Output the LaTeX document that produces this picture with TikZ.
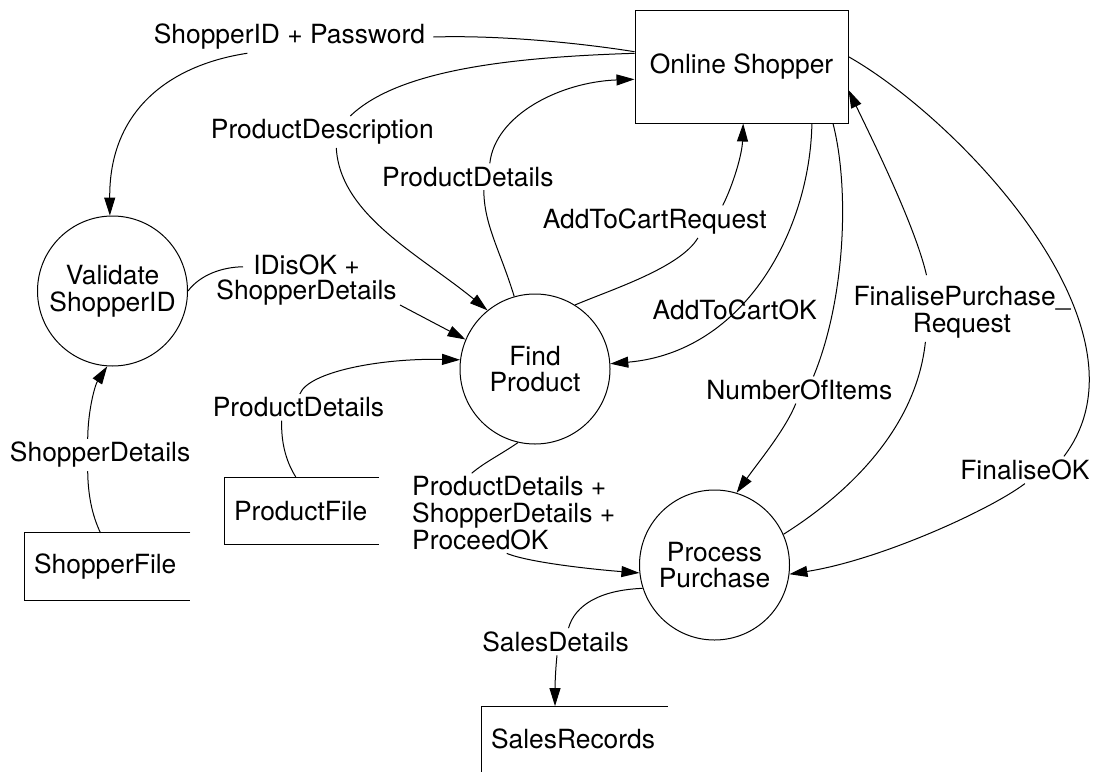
\documentclass[tikz,border=0pt]{standalone}
\usepackage{fontspec}
\setmainfont{TeX Gyre Heros}
\usetikzlibrary{arrows.meta}

\tikzset{
  proc/.style={circle, draw, minimum size=75pt, inner sep=0pt, align=center},
  ext/.style={draw, minimum width=106.5pt, minimum height=56.5pt},
  store/.style={text width=#1, align=left, inner xsep=4.5pt, anchor=west, minimum height=33.3pt},
  flow/.style={inner xsep=4pt, inner ysep=1.5pt},
  flowto/.style={-{Triangle[length=9pt,width=5.5pt]}},
}

\begin{document}
\begin{tikzpicture}[x=0.5pt, y=-0.5pt, line width=0.5pt, font=\fontsize{13.2pt}{13.35pt}\selectfont]
  \useasboundingbox (0,0) rectangle (1097,771);

  % Processes and external entity
  \node[ext] (os) at (741.5,66.5) {Online Shopper};
  \node[proc] (val) at (112.5,291) {Validate\\ShopperID};
  \node[proc] (fp) at (535,369) {Find\\Product};
  \node[proc] (pp) at (714.5,565) {Process\\Purchase};

  % Data stores (open on the right)
  \node[store=73.4pt] (sf) at (24.6,566.7) {ShopperFile};
  \node[store=67.8pt] (pf) at (224.5,510.8) {ProductFile};
  \node[store=83.6pt, minimum height=32.2pt] (sr) at (481.5,738.8) {SalesRecords};
  \foreach \F in {sf,pf} {
    \draw (\F.north east) -| (\F.south west) -- (\F.south east);
  }
  \draw (sr.north east) -| (sr.south west); % bottom cut off by the page

  % Flow labels
  \node[flow] (l-pw) at (289.4,37) {ShopperID + Password};
  \node[flow] (l-pdesc) at (322.3,132) {ProductDescription};
  \node[flow] (l-pdet1) at (467.8,176.7) {ProductDetails};
  \node[flow] (l-acr) at (654.7,221.7) {AddToCartRequest};
  \node[flow, align=center, font=\fontsize{13.2pt}{12.5pt}\selectfont] (l-idok) at (306.5,280) {IDisOK +\\ShopperDetails};
  \node[flow] (l-acok) at (734.7,310) {AddToCartOK};
  \node[flow, align=center] (l-fpr) at (962,312.5) {FinalisePurchase\_\\Request};
  \node[flow] (l-pdet2) at (298.5,407.3) {ProductDetails};
  \node[flow] (l-shd2) at (100.1,455) {ShopperDetails};
  \node[flow] (l-items) at (799.3,390) {NumberOfItems};
  \node[flow] (l-fok) at (1024.9,470) {FinaliseOK};
  \node[flow, align=left] (l-pso) at (513.7,513.3) {ProductDetails +\\ShopperDetails +\\ProceedOK};
  \node[flow] (l-sales) at (555.5,641.7) {SalesDetails};

  % Shopper -> Validate
  \draw ([yshift=7.4pt]os.west) .. controls (580,43) and (500,35) .. (l-pw.east);
  \draw[flowto] ([xshift=-21pt]l-pw.south) .. controls (170,65) and (109,110) .. (val.92);

  % Shopper -> Find Product
  \draw ([yshift=6.6pt]os.west) .. controls (520,57) and (400,68) .. ([xshift=14pt]l-pdesc.north);
  \draw[flowto] ([xshift=7pt]l-pdesc.south) .. controls (340,215) and (420,255) .. (fp.129);

  % Find Product -> Shopper
  \draw (fp.106) .. controls (500,250) and (484,225) .. ([xshift=8pt]l-pdet1.south);
  \draw[flowto] ([xshift=11pt]l-pdet1.north) .. controls (495,115) and (560,82) .. ([yshift=-6.4pt]os.west);
  \draw (fp.58) .. controls (610,290) and (680,268) .. ([xshift=21.6pt]l-acr.south);
  \draw[flowto] ([xshift=34pt]l-acr.north) .. controls (733,185) and (742,155) .. ([xshift=0.85pt]os.south);

  % AddToCartOK runs through its label
  \draw[flowto] ([xshift=35.2pt]os.south) .. controls (810,230) and (745,352) .. (fp.4);

  % Validate -> Find Product
  \draw (val.east) .. controls (200,275) and (222,267) .. ([shift={(-31.75pt,6.6pt)}]l-idok.center);
  \draw[flowto] ([shift={(46.75pt,-12.5pt)}]l-idok.center) -- (fp.157);

  % Stores -> processes
  \draw ([xshift=-3pt]pf.north) .. controls (285,460) and (281,440) .. ([xshift=-8.4pt]l-pdet2.south);
  \draw[flowto] ([xshift=0.7pt]l-pdet2.north) .. controls (308,372) and (380,358) .. (fp.173);
  \draw ([xshift=-3.5pt]sf.north) .. controls (92,515) and (88,495) .. ([xshift=-6.2pt]l-shd2.south);
  \draw[flowto] ([xshift=-6.2pt]l-shd2.north) .. controls (88,410) and (95,385) .. (val.266);

  % Shopper <-> Process Purchase
  \draw ([xshift=45.75pt]os.south) .. controls (850,190) and (845,300) .. ([xshift=7.1pt]l-items.north);
  \draw[flowto] ([xshift=-1.75pt]l-items.south) .. controls (785,430) and (760,460) .. (pp.73);
  \draw (pp.24) .. controls (830,505) and (915,440) .. ([xshift=-18.3pt]l-fpr.south);
  \draw[flowto] ([shift={(-17.75pt,4pt)}]l-fpr.north) .. controls (915,225) and (870,135) .. ([yshift=-11.75pt]os.east);
  \draw ([yshift=4.9pt]os.east) .. controls (960,120) and (1160,330) .. ([xshift=19.5pt]l-fok.north);
  \draw[flowto] (l-fok.south) .. controls (990,510) and (880,560) .. (pp.-7);

  % Find Product -> Process Purchase -> SalesRecords
  \draw (fp.257) .. controls (500,455) and (485,462) .. ([xshift=-21pt]l-pso.north);
  \draw[flowto] ([xshift=-3.5pt]l-pso.south) .. controls (530,563) and (600,570) .. (pp.186);
  \draw (pp.198) .. controls (600,590) and (575,605) .. ([xshift=6.5pt]l-sales.north);
  \draw[flowto] ([xshift=0.75pt]l-sales.south) .. controls (555,675) and (555,690) .. ([xshift=-9.8pt]sr.north);
\end{tikzpicture}
\end{document}
